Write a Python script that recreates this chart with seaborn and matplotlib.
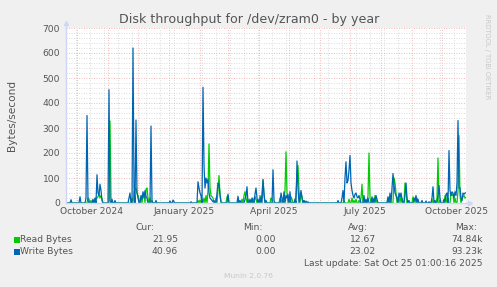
import numpy as np
import pandas as pd
import matplotlib
matplotlib.use("Agg")
import matplotlib.pyplot as plt
import matplotlib.dates as mdates
from matplotlib.patches import Rectangle
import seaborn as sns

# ---------------- data ----------------
start_date = "2024-09-20 08:00"
end_date = "2025-10-25 08:00"

read_bytes = [
    0, 0, 0, 0, 0, 0, 0, 0, 0, 0, 0, 0, 0, 0, 0, 0, 0, 0, 0, 0,
    0, 0, 20, 15, 0, 10, 0, 0, 10, 0, 15, 20, 25, 35, 20, 30, 15, 0, 0, 0,
    0, 0, 0, 0, 328, 20, 0, 0, 0, 0, 0, 0, 0, 0, 0, 0, 0, 0, 0, 0,
    0, 0, 0, 0, 0, 0, 20, 0, 45, 55, 60, 40, 30, 15, 0, 20, 0, 35, 40, 0,
    55, 60, 20, 0, 20, 0, 10, 0, 0, 0, 0, 0, 0, 0, 0, 0, 0, 0, 0, 0,
    0, 0, 0, 0, 0, 0, 0, 0, 0, 0, 0, 0, 0, 0, 0, 0, 0, 0, 0, 0,
    0, 0, 0, 0, 0, 0, 0, 0, 0, 0, 0, 0, 10, 0, 12, 0, 15, 0, 20, 0,
    30, 0, 50, 236, 60, 30, 25, 20, 0, 0, 20, 0, 50, 110, 40, 0, 0, 0, 0, 0,
    0, 25, 30, 0, 0, 0, 0, 0, 0, 0, 0, 0, 10, 0, 0, 0, 15, 0, 30, 45,
    20, 0, 15, 0, 0, 10, 0, 20, 0, 25, 15, 0, 0, 0, 30, 0, 40, 90, 30, 0,
    0, 0, 0, 0, 0, 20, 15, 0, 0, 0, 0, 0, 0, 0, 20, 0, 15, 0, 0, 50,
    205, 40, 0, 20, 0, 25, 15, 0, 0, 0, 40, 100, 150, 50, 0, 40, 25, 0, 10, 0,
    0, 0, 0, 0, 0, 0, 0, 0, 0, 0, 0, 0, 0, 0, 0, 0, 0, 0, 0, 0,
    0, 0, 0, 0, 0, 0, 0, 0, 0, 0, 0, 0, 0, 0, 0, 0, 0, 0, 10, 0,
    0, 0, 0, 15, 0, 0, 20, 0, 10, 0, 15, 0, 0, 10, 0, 20, 75, 0, 0, 10,
    0, 0, 30, 200, 20, 0, 10, 0, 0, 30, 15, 0, 0, 0, 0, 0, 0, 0, 0, 0,
    0, 0, 20, 0, 10, 0, 0, 0, 100, 80, 40, 0, 25, 0, 30, 0, 20, 0, 0, 80,
    60, 0, 10, 0, 0, 0, 0, 25, 0, 15, 0, 20, 0, 0, 0, 0, 0, 0, 0, 0,
    0, 0, 0, 0, 0, 0, 15, 0, 0, 0, 0, 20, 180, 0, 10, 0, 0, 0, 0, 30,
    20, 0, 0, 0, 0, 40, 30, 35, 0, 20, 0, 0, 50, 270, 30, 0, 15, 25, 30, 20,
    22,
]

write_bytes = [
    0, 0, 0, 0, 0, 13, 0, 0, 0, 0, 0, 0, 0, 0, 25, 0, 0, 0, 0, 0,
    20, 350, 10, 0, 0, 0, 0, 15, 0, 20, 0, 113, 40, 30, 75, 50, 10, 0, 0, 0,
    0, 0, 0, 453, 10, 0, 15, 0, 0, 10, 0, 0, 0, 0, 0, 0, 0, 0, 0, 0,
    0, 0, 0, 20, 40, 0, 0, 620, 60, 0, 332, 40, 20, 0, 0, 30, 15, 45, 20, 50,
    25, 20, 0, 0, 0, 308, 5, 0, 0, 0, 10, 0, 0, 0, 0, 0, 0, 0, 0, 0,
    0, 0, 0, 0, 8, 0, 0, 12, 5, 0, 0, 0, 0, 0, 0, 0, 0, 0, 0, 0,
    0, 0, 0, 0, 0, 5, 0, 0, 0, 0, 0, 0, 85, 60, 40, 30, 0, 463, 150, 60,
    100, 80, 95, 40, 20, 15, 10, 5, 10, 0, 0, 40, 80, 75, 30, 5, 0, 0, 0, 0,
    0, 0, 35, 0, 0, 0, 0, 0, 0, 0, 0, 0, 27, 0, 10, 0, 0, 0, 0, 15,
    30, 65, 0, 0, 15, 0, 20, 0, 0, 35, 60, 20, 0, 15, 0, 25, 0, 95, 40, 0,
    10, 0, 0, 0, 0, 0, 0, 133, 10, 0, 0, 0, 0, 0, 0, 40, 20, 0, 45, 0,
    30, 20, 35, 0, 45, 0, 0, 0, 0, 15, 0, 168, 60, 0, 20, 50, 20, 0, 10, 0,
    8, 0, 5, 0, 0, 0, 0, 0, 0, 0, 0, 0, 0, 0, 0, 0, 0, 0, 0, 0,
    0, 0, 0, 0, 0, 0, 0, 0, 0, 0, 0, 0, 10, 0, 0, 0, 20, 50, 0, 100,
    165, 80, 90, 130, 190, 80, 50, 30, 20, 35, 40, 25, 20, 30, 15, 0, 0, 0, 30, 0,
    15, 0, 20, 0, 0, 0, 25, 0, 20, 0, 30, 15, 0, 0, 0, 0, 0, 0, 0, 0,
    0, 0, 25, 0, 40, 0, 60, 118, 70, 40, 30, 20, 0, 40, 25, 40, 15, 0, 0, 30,
    80, 20, 0, 10, 0, 0, 0, 0, 20, 10, 30, 0, 15, 0, 0, 0, 10, 0, 0, 0,
    8, 0, 0, 5, 0, 0, 20, 65, 0, 10, 0, 0, 30, 70, 20, 0, 0, 0, 15, 0,
    35, 40, 0, 210, 50, 30, 45, 40, 20, 45, 30, 80, 330, 60, 60, 20, 10, 40, 35, 40,
    41,
]

series_names = ["Read Bytes", "Write Bytes"]
series_colors = ["#00cc00", "#0066b3"]
cur_vals = ["21.95", "40.96"]
min_vals = ["0.00", "0.00"]
avg_vals = ["12.67", "23.02"]
max_vals = ["74.84k", "93.23k"]

y_ticks = [0, 100, 200, 300, 400, 500, 600, 700]
x_labels = ["October 2024", "January 2025", "April 2025", "July 2025", "October 2025"]
x_label_dates = ["2024-10-16", "2025-01-16", "2025-04-16", "2025-07-16", "2025-10-16"]

title = "Disk throughput for /dev/zram0 - by year"
y_title = "Bytes/second"
last_update = "Last update: Sat Oct 25 01:00:16 2025"
credit = "RRDTOOL / TOBI OETIKER"
version = "Munin 2.0.76"

# ---------------- frame ----------------
dates = pd.date_range(start_date, periods=len(read_bytes), freq="D")
df = pd.DataFrame({
    "date": np.concatenate([dates, dates]),
    "value": read_bytes + write_bytes,
    "series": [series_names[0]] * len(dates) + [series_names[1]] * len(dates),
})

W, H = 497, 287
FONT = "#555555"
AXC = "#cfd6f8"

fig = plt.figure(figsize=(W / 100, H / 100), dpi=100, facecolor="#f0f0f0")
ax = fig.add_axes([66 / W, 84 / H, 400 / W, 175 / H])
ax.set_facecolor("white")

sns.lineplot(data=df, x="date", y="value", hue="series", hue_order=series_names,
             palette=series_colors, legend=False, linewidth=0.9, ax=ax)

ax.set_xlim(pd.Timestamp(start_date), pd.Timestamp(end_date))
ax.set_ylim(0, 700)
ax.set_xlabel("")
ax.set_ylabel("")

# grids
month_starts = pd.date_range("2024-10-01", "2025-10-01", freq="MS")
biweekly = pd.date_range("2024-09-30", "2025-10-25", freq="14D")
ax.set_xticks(month_starts)
ax.set_xticks(biweekly, minor=True)
ax.set_xticklabels([])
ax.set_yticks(y_ticks)
ax.set_yticks(np.arange(0, 701, 20), minor=True)
ax.set_yticklabels([str(v) for v in y_ticks])
ax.set_axisbelow(True)
ax.grid(which="minor", color="#d0d0d0", linestyle=(0, (1, 2)), linewidth=0.6)
ax.grid(which="major", color="#f0a0a0", linestyle=(0, (1, 2)), linewidth=0.6)
ax.tick_params(which="both", length=0)
ax.tick_params(axis="y", labelsize=6.6, labelcolor=FONT, pad=4.3)

for s in ["top", "right"]:
    ax.spines[s].set_visible(False)
for s in ["left", "bottom"]:
    ax.spines[s].set_color(AXC)
    ax.spines[s].set_linewidth(1)

# arrows
ax.plot([0, 0], [1, 1.025], transform=ax.transAxes, clip_on=False, color=AXC, lw=1)
ax.plot([0], [1.03], transform=ax.transAxes, clip_on=False, marker="^", ms=3, color=AXC)
ax.plot([1, 1.006], [0, 0], transform=ax.transAxes, clip_on=False, color=AXC, lw=1)
ax.plot([1.009], [0], transform=ax.transAxes, clip_on=False, marker=">", ms=3, color=AXC)

# month labels
for lab, d in zip(x_labels, x_label_dates):
    ax.text(pd.Timestamp(d), -0.05, lab, transform=ax.get_xaxis_transform(),
            ha="center", va="center", fontsize=6.6, color=FONT)


def px(x, y):
    return x / W, 1 - y / H


fig.text(*px(249, 19), title, ha="center", va="center", fontsize=9.1, color=FONT)
fig.text(*px(12, 115), y_title, rotation=90, ha="center", va="center", fontsize=7.6, color=FONT)
fig.text(*px(487, 57), credit, rotation=270, ha="center", va="center", fontsize=4.8, color="#c8c8c8")

# legend
fig.text(*px(155, 228), "Cur:", ha="right", va="center", fontsize=6.6, color=FONT)
fig.text(*px(262, 228), "Min:", ha="right", va="center", fontsize=6.6, color=FONT)
fig.text(*px(368, 228), "Avg:", ha="right", va="center", fontsize=6.6, color=FONT)
fig.text(*px(477, 228), "Max:", ha="right", va="center", fontsize=6.6, color=FONT)
rows_y = [240, 252]
for i, name in enumerate(series_names):
    yy = rows_y[i]
    fig.patches.append(Rectangle(px(14, yy + 3), 5.5 / W, 6 / H, transform=fig.transFigure,
                                 facecolor=series_colors[i], edgecolor="none"))
    fig.text(*px(20.5, yy), name, ha="left", va="center", fontsize=6.6, color=FONT)
    fig.text(*px(178, yy), cur_vals[i], ha="right", va="center", fontsize=6.6, color=FONT)
    fig.text(*px(276, yy), min_vals[i], ha="right", va="center", fontsize=6.6, color=FONT)
    fig.text(*px(376, yy), avg_vals[i], ha="right", va="center", fontsize=6.6, color=FONT)
    fig.text(*px(483, yy), max_vals[i], ha="right", va="center", fontsize=6.6, color=FONT)
fig.text(*px(483, 264), last_update, ha="right", va="center", fontsize=6.6, color=FONT)
fig.text(*px(248, 276), version, ha="center", va="center", fontsize=5.4, color="#c8c8c8")

fig.savefig("out.png", dpi=100, facecolor=fig.get_facecolor())
